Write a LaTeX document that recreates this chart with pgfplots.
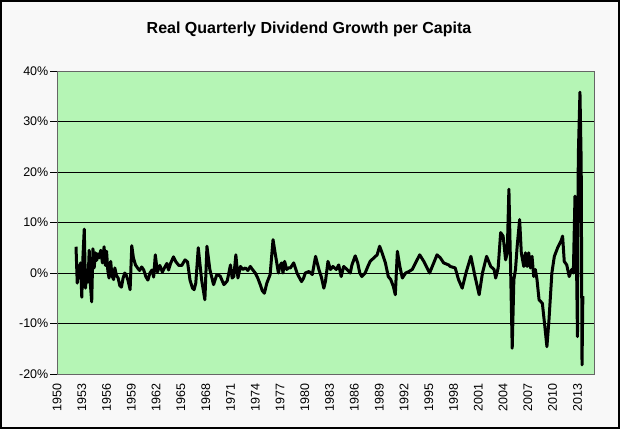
\documentclass[border=0pt]{standalone}
\usepackage{pgfplots}
\pgfplotsset{compat=1.18}
\usepackage{fontspec}
\setmainfont{Liberation Sans}
\definecolor{plotgreen}{RGB}{181,245,181}
\definecolor{chartbg}{RGB}{248,248,248}
\pgfplotstableread{
year val
1952.30 5.2
1952.45 -2.0
1952.55 1.5
1952.70 -1.0
1952.85 2.0
1953.00 -4.8
1953.15 3.5
1953.30 8.7
1953.45 -3.0
1953.60 0.5
1953.75 -1.8
1953.90 4.5
1954.05 -2.5
1954.20 -5.7
1954.35 4.8
1954.50 1.0
1954.65 4.0
1954.80 2.5
1954.95 3.8
1955.10 3.0
1955.30 4.5
1955.50 2.0
1955.70 5.2
1955.85 1.5
1956.00 4.3
1956.15 0.5
1956.30 -1.0
1956.50 2.3
1956.65 -0.5
1956.85 -1.3
1957.00 1.0
1957.20 -0.5
1957.40 -1.0
1957.60 -2.5
1957.80 -2.8
1958.00 -1.0
1958.20 0.0
1958.40 -0.5
1958.60 -1.5
1958.85 -3.3
1959.05 5.4
1959.25 3.0
1959.50 1.6
1959.75 1.0
1960.00 0.5
1960.25 1.2
1960.50 0.6
1960.75 -0.7
1961.00 -1.4
1961.25 0.0
1961.50 0.6
1961.70 -0.8
1961.90 3.6
1962.15 0.2
1962.45 1.5
1962.75 0.2
1963.00 1.0
1963.30 1.9
1963.50 0.6
1963.75 1.9
1964.10 3.2
1964.40 2.2
1964.75 1.5
1965.10 1.5
1965.50 2.6
1965.80 2.2
1966.10 -1.4
1966.40 -3.0
1966.60 -3.3
1966.80 -2.0
1967.10 5.0
1967.50 -1.3
1967.90 -5.3
1968.15 5.3
1968.50 0.7
1968.95 -2.3
1969.35 -0.3
1969.75 -0.6
1970.20 -2.3
1970.60 -1.6
1971.00 1.6
1971.20 -1.0
1971.40 -0.7
1971.65 3.6
1971.90 -1.0
1972.20 1.3
1972.50 0.7
1972.80 1.0
1973.10 0.5
1973.40 1.3
1973.70 0.6
1974.00 0.0
1974.30 -1.0
1974.60 -2.3
1974.85 -3.5
1975.10 -4.0
1975.40 -2.0
1975.80 -0.3
1976.15 6.6
1976.40 4.0
1976.60 2.0
1976.80 0.0
1977.00 1.5
1977.20 2.0
1977.35 0.0
1977.55 2.3
1977.80 0.7
1978.00 1.0
1978.25 1.0
1978.65 2.0
1979.05 0.0
1979.30 -0.8
1979.60 -1.7
1979.85 -1.0
1980.05 0.0
1980.50 0.3
1980.90 -0.3
1981.30 3.3
1981.70 0.7
1982.00 -0.8
1982.30 -3.0
1982.50 -1.6
1982.80 2.3
1983.10 0.7
1983.40 1.3
1983.80 0.7
1984.10 1.6
1984.40 -0.7
1984.70 1.3
1985.10 0.7
1985.50 0.0
1985.70 1.6
1986.10 3.4
1986.40 2.0
1986.65 0.0
1986.90 -0.7
1987.30 0.0
1987.60 1.2
1987.90 2.3
1988.35 3.0
1988.75 3.6
1989.05 5.3
1989.35 4.0
1989.75 2.0
1990.10 -0.7
1990.40 -1.3
1990.70 -2.6
1990.95 -4.3
1991.20 4.3
1991.50 1.3
1991.80 -1.0
1992.20 0.0
1992.60 0.3
1993.00 0.7
1993.40 2.0
1993.90 3.6
1994.40 2.3
1994.80 1.0
1995.10 0.0
1995.50 1.6
1996.00 3.6
1996.40 3.0
1996.80 2.0
1997.10 1.8
1997.40 1.6
1997.60 1.3
1998.20 1.0
1998.60 -1.3
1999.05 -3.0
1999.50 0.0
2000.10 3.3
2000.60 -0.7
2001.10 -4.3
2001.50 0.0
2002.00 3.3
2002.50 1.3
2002.90 0.7
2003.10 -1.0
2003.40 1.0
2003.70 8.0
2004.00 7.3
2004.30 2.6
2004.50 4.0
2004.70 16.6
2004.90 1.3
2005.10 -14.9
2005.30 -1.3
2005.50 0.7
2005.70 5.3
2006.00 10.6
2006.20 4.0
2006.50 1.3
2006.70 4.0
2006.90 1.3
2007.10 4.0
2007.30 1.0
2007.50 3.3
2007.70 -0.7
2007.90 0.7
2008.10 -1.3
2008.35 -5.3
2008.75 -6.0
2009.05 -10.6
2009.30 -14.6
2009.55 -9.3
2009.90 0.0
2010.20 3.3
2010.60 5.0
2011.00 6.3
2011.20 7.3
2011.40 2.3
2011.70 1.6
2012.00 -0.7
2012.30 0.7
2012.50 0.0
2012.70 15.2
2012.90 0.0
2013.00 -12.6
2013.10 23.2
2013.30 35.8
2013.45 21.9
2013.55 -18.2
2013.65 -4.6
}\divdata
\begin{document}
\begin{tikzpicture}[x=1pt,y=1pt]
\path[use as bounding box] (0,0) rectangle (620,429);
\fill[chartbg] (0,0) rectangle (620,429);
\draw[black, line width=1.6pt] (0.8,0.8) rectangle (619.2,428.2);
\node[font=\fontsize{16}{19}\selectfont\bfseries] at (309,400) {Real Quarterly Dividend Growth per Capita};
\begin{axis}[
  at={(57pt,55pt)}, anchor=south west,
  width=537pt, height=303pt, scale only axis,
  xmin=1950, xmax=2015, ymin=-20, ymax=40,
  axis background/.style={fill=plotgreen},
  axis line style={draw=gray!80!black, line width=0.9pt},
  ytick={-20,-10,0,10,20,30,40},
  yticklabels={-20\%,-10\%,0\%,10\%,20\%,30\%,40\%},
  xtick={1950,1953,...,2013},
  xticklabels={1950,1953,1956,1959,1962,1965,1968,1971,1974,1977,1980,1983,1986,1989,1992,1995,1998,2001,2004,2007,2010,2013},
  ymajorgrids,
  grid style={black, line width=0.8pt},
  ytick style={black, line width=0.8pt},
  xtick style={draw=none},
  tick align=outside, major tick length=7pt,
  ticklabel style={font=\fontsize{12.5}{14}\selectfont},
  /pgf/number format/assume math mode=true,
  yticklabel style={inner sep=1.5pt},
  xticklabel style={rotate=90, anchor=east, inner sep=2.5pt},
  xtick pos=bottom, ytick pos=left,
  clip=true,
]
\addplot[black, line width=3pt, line join=round] table[x=year, y=val] {\divdata};
\end{axis}
\end{tikzpicture}
\end{document}
